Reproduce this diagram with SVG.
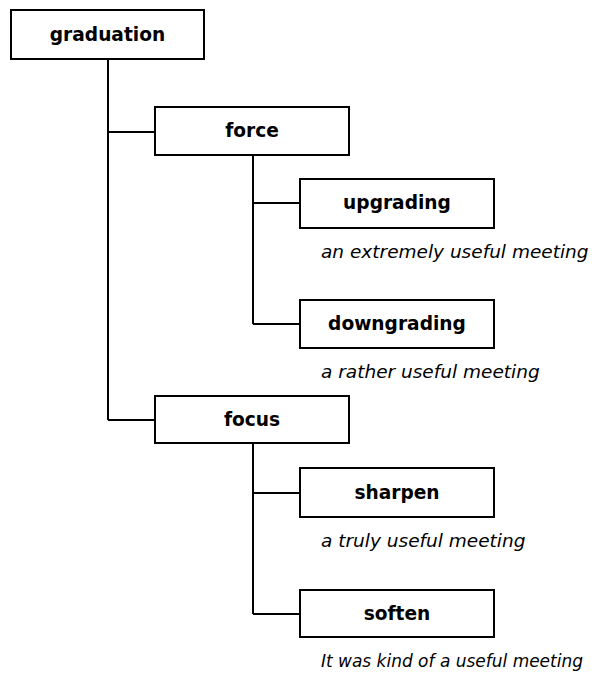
<svg xmlns="http://www.w3.org/2000/svg" width="616" height="673" viewBox="0 0 616 673">
<style>
.box{fill:#fff;stroke:#000;stroke-width:2}
.lbl{font-family:"DejaVu Sans",Verdana,sans-serif;font-weight:bold;font-size:18.6px;text-anchor:middle;fill:#000}
.note{font-family:"DejaVu Sans",Verdana,sans-serif;font-style:italic;font-size:18.5px;fill:#000}
.conn{fill:none;stroke:#000;stroke-width:2}
</style>
<rect width="616" height="673" fill="#fff"/>
<g id="connectors">
<path class="conn" d="M108 59V420M108 132H155M108 420H155"/>
<path class="conn" d="M253 155V324M253 203H300M253 324H300"/>
<path class="conn" d="M253 443V614M253 493H300M253 614H300"/>
</g>
<g id="graduation"><rect class="box" x="11" y="10" width="193" height="49"/><text class="lbl" x="107.5" y="41">graduation</text></g>
<g id="force"><rect class="box" x="155" y="107" width="194" height="48"/><text class="lbl" x="252" y="137">force</text></g>
<g id="upgrading"><rect class="box" x="300" y="179" width="194" height="49"/><text class="lbl" x="397" y="209">upgrading</text><text class="note" x="321" y="258">an extremely useful meeting</text></g>
<g id="downgrading"><rect class="box" x="300" y="300" width="194" height="48"/><text class="lbl" x="397" y="330">downgrading</text><text class="note" x="321" y="378">a rather useful meeting</text></g>
<g id="focus"><rect class="box" x="155" y="396" width="194" height="47"/><text class="lbl" x="252" y="426">focus</text></g>
<g id="sharpen"><rect class="box" x="300" y="468" width="194" height="49"/><text class="lbl" x="397" y="499">sharpen</text><text class="note" x="321" y="547">a truly useful meeting</text></g>
<g id="soften"><rect class="box" x="300" y="590" width="194" height="47"/><text class="lbl" x="397" y="620">soften</text><text class="note" x="321" y="667" textLength="262" lengthAdjust="spacingAndGlyphs">It was kind of a useful meeting</text></g>
</svg>
